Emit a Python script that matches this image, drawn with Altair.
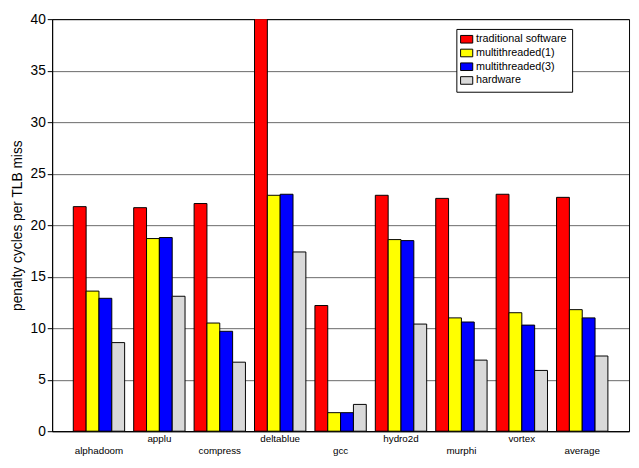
import altair as alt
import pandas as pd

benchmarks = ["alphadoom", "applu", "compress", "deltablue", "gcc",
              "hydro2d", "murphi", "vortex", "average"]
series = ["traditional software", "multithreaded(1)", "multithreaded(3)", "hardware"]
colors = ["#ff0000", "#ffff00", "#0000ff", "#d9d9d9"]

traditional = [21.8, 21.7, 22.1, 42.0, 12.2, 22.9, 22.6, 23.0, 22.7]
multi1 = [13.6, 18.7, 10.5, 22.9, 1.8, 18.6, 11.0, 11.5, 11.8]
multi3 = [12.9, 18.8, 9.7, 23.0, 1.8, 18.5, 10.6, 10.3, 11.0]
hardware = [8.6, 13.1, 6.7, 17.4, 2.6, 10.4, 6.9, 5.9, 7.3]

rows = []
for vals, s in zip([traditional, multi1, multi3, hardware], series):
    for b, v in zip(benchmarks, vals):
        rows.append({"benchmark": b, "series": s, "value": v})
df = pd.DataFrame(rows)

lower = benchmarks[0::2]
label_expr = "indexof(" + str(lower) + ", datum.value) >= 0 ? ['', datum.value] : datum.value"

chart = alt.Chart(df).mark_bar(stroke="black", strokeWidth=1, clip=True).encode(
    x=alt.X("benchmark:N", sort=benchmarks, title=None,
            scale=alt.Scale(paddingInner=0.15, paddingOuter=0.35),
            axis=alt.Axis(labelAngle=0, labelExpr=label_expr, labelFont="Liberation Sans",
                          labelFontSize=10, labelColor="black", labelLineHeight=13,
                          labelPadding=2, ticks=False, domainColor="black")),
    xOffset=alt.XOffset("series:N", sort=series),
    y=alt.Y("value:Q", title="penalty cycles per TLB miss",
            scale=alt.Scale(domain=[0, 40], nice=False),
            axis=alt.Axis(values=list(range(0, 41, 5)), labelFont="Liberation Sans",
                          labelFontSize=14, labelColor="black", titleFont="Liberation Sans",
                          titleFontSize=14, titleFontWeight="normal", titleColor="black",
                          gridColor="black", gridWidth=0.6, domainColor="black",
                          tickColor="black", titlePadding=6)),
    color=alt.Color("series:N", sort=series,
                    scale=alt.Scale(domain=series, range=colors),
                    legend=alt.Legend(title=None, orient="none", legendX=412, legendY=10,
                                      symbolType="M-1.6,-1L1.6,-1L1.6,1L-1.6,1Z",
                                      symbolSize=60,
                                      symbolStrokeColor="black", symbolStrokeWidth=1,
                                      labelFont="Liberation Sans", labelFontSize=11,
                                      labelColor="black", rowPadding=1,
                                      strokeColor="black", fillColor="white",
                                      padding=5)),
).properties(width=588, height=420, padding={"left": 2, "top": 0, "right": 2, "bottom": 0}
).configure_view(stroke="black")

chart.save("out.html", embed_options={"renderer": "svg", "actions": False})
